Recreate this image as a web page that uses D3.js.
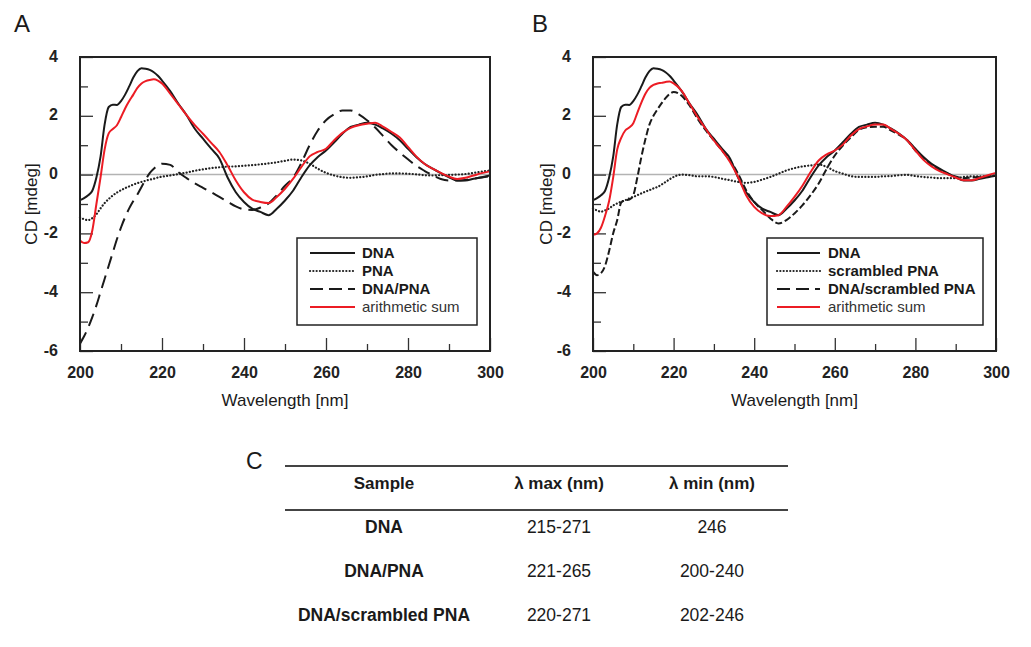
<!DOCTYPE html>
<html>
<head>
<meta charset="utf-8">
<script src="https://cdn.jsdelivr.net/npm/d3@7"></script>
<style>
  body { margin: 0; background: #fff; }
  svg { display: block; font-family: Arial, "Liberation Sans", sans-serif; }
</style>
</head>
<body>
<svg id="chart" width="1031" height="647"></svg>
<script>
// wavelengths shared by every spectrum (1 nm steps up to 220, then 2 nm)
const wavelengths = [200,201,202,203,204,205,206,207,208,209,210,211,212,213,214,215,216,217,218,219,220,
  222,224,226,228,230,232,234,236,238,240,242,244,246,248,250,252,254,256,258,260,
  262,264,266,268,270,272,274,276,278,280,282,284,286,288,290,292,294,296,298,300]

// CD values (mdeg)
const dnaCD = [-0.87,-0.8,-0.7,-0.55,-0.1,0.6,1.7,2.3,2.38,2.37,2.5,2.72,3.0,3.3,3.52,3.62,3.6,3.56,3.48,3.36,3.2,
  2.84,2.41,2.02,1.56,1.22,0.88,0.55,-0.1,-0.6,-0.93,
  -1.16,-1.27,-1.38,-1.16,-0.88,-0.54,-0.09,0.31,0.6,0.82,
  1.1,1.39,1.62,1.7,1.76,1.7,1.56,1.39,1.17,0.88,
  0.6,0.37,0.2,0.05,-0.09,-0.2,-0.2,-0.14,-0.09,-0.03]

const pnaCD = [-1.45,-1.52,-1.55,-1.48,-1.35,-1.15,-0.97,-0.83,-0.71,-0.61,-0.53,-0.46,-0.4,-0.34,-0.29,-0.25,-0.21,-0.17,-0.14,-0.1,-0.07,
  -0.03,0.02,0.07,0.13,0.18,0.22,0.25,0.27,0.28,0.3,
  0.32,0.35,0.38,0.42,0.47,0.51,0.48,0.37,0.2,0.06,
  -0.03,-0.09,-0.11,-0.09,-0.06,-0.01,0.02,0.04,0.04,0.03,
  0.01,-0.02,-0.03,-0.02,-0.01,0,0.02,0.06,0.1,0.14]

const dnaPnaCD = [-5.75,-5.5,-5.2,-4.85,-4.45,-4.0,-3.55,-3.1,-2.65,-2.2,-1.8,-1.45,-1.15,-0.9,-0.68,-0.42,-0.17,0.05,0.2,0.3,0.37,
  0.33,0.08,-0.12,-0.3,-0.45,-0.6,-0.76,-0.92,-1.08,-1.18,
  -1.2,-1.12,-0.98,-0.7,-0.38,-0.1,0.4,1.0,1.5,1.85,
  2.05,2.18,2.18,2.05,1.85,1.6,1.3,1.0,0.75,0.52,
  0.3,0.13,-0.02,-0.15,-0.2,-0.2,-0.18,-0.14,-0.1,-0.05]

const sumCD_A = [-2.24,-2.33,-2.3,-1.9,-1.0,-0.1,0.85,1.4,1.55,1.68,1.95,2.25,2.5,2.72,2.95,3.1,3.18,3.22,3.24,3.2,3.1,
  2.75,2.39,2.02,1.68,1.39,1.08,0.77,0.31,-0.2,-0.6,
  -0.85,-0.93,-0.97,-0.76,-0.48,-0.14,0.26,0.62,0.77,0.88,
  1.17,1.42,1.59,1.68,1.73,1.76,1.62,1.45,1.26,0.94,
  0.62,0.37,0.2,0.06,-0.07,-0.15,-0.11,-0.03,0.05,0.11]

const scrambledPnaCD = [-1.15,-1.22,-1.26,-1.22,-1.15,-1.05,-0.98,-0.92,-0.87,-0.81,-0.76,-0.7,-0.64,-0.58,-0.53,-0.47,-0.42,-0.34,-0.25,-0.16,-0.08,
  0,-0.02,-0.06,-0.06,-0.08,-0.14,-0.19,-0.25,-0.28,-0.25,
  -0.17,-0.08,0.03,0.14,0.22,0.28,0.31,0.34,0.26,0.12,
  0.03,-0.05,-0.08,-0.08,-0.08,-0.06,-0.05,-0.02,-0.01,-0.05,
  -0.08,-0.1,-0.12,-0.12,-0.12,-0.08,-0.06,-0.06,-0.05,-0.02]

const dnaScrambledCD = [-3.3,-3.42,-3.35,-3.1,-2.6,-2.0,-1.55,-0.95,-0.88,-0.85,-0.7,-0.1,0.6,1.2,1.7,2.0,2.22,2.42,2.6,2.74,2.81,
  2.68,2.34,1.89,1.5,1.16,0.82,0.48,0.03,-0.53,-0.93,
  -1.21,-1.49,-1.66,-1.55,-1.32,-1.04,-0.7,-0.3,0.2,0.65,
  0.99,1.27,1.52,1.61,1.63,1.63,1.5,1.35,1.16,0.82,
  0.54,0.31,0.15,0.03,-0.06,-0.12,-0.1,-0.08,-0.06,-0.05]

const sumCD_B = [-2.05,-2.0,-1.8,-1.4,-0.9,-0.1,0.85,1.25,1.5,1.6,1.75,2.1,2.45,2.75,2.95,3.05,3.1,3.12,3.15,3.17,3.1,
  2.85,2.4,1.95,1.55,1.16,0.82,0.43,-0.08,-0.7,-1.1,
  -1.32,-1.41,-1.38,-1.1,-0.76,-0.37,0.09,0.48,0.69,0.82,
  1.02,1.33,1.55,1.64,1.7,1.7,1.55,1.38,1.16,0.82,
  0.5,0.28,0.12,0.01,-0.1,-0.19,-0.19,-0.11,-0.02,0.06]

// axis ticks
const xMajorTicks = [200, 220, 240, 260, 280, 300]
const xMinorTicks = [210, 230, 250, 270, 290]
const yMajorTicks = [-6, -4, -2, 0, 2, 4]
const yMinorTicks = [-5, -3, -1, 1, 3]

const legendLabelsA = ['DNA', 'PNA', 'DNA/PNA', 'arithmetic sum']
const legendLabelsB = ['DNA', 'scrambled PNA', 'DNA/scrambled PNA', 'arithmetic sum']

// table C
const tableHeader = ['Sample', 'λ max (nm)', 'λ min (nm)']
const tableSamples = ['DNA', 'DNA/PNA', 'DNA/scrambled PNA']
const lambdaMax = ['215-271', '221-265', '220-271']
const lambdaMin = ['246', '200-240', '202-246']

const RED = '#ec1c24'
const INK = '#1a1a1a'

const svg = d3.select('#chart')
svg.append('rect').attr('width', 1031).attr('height', 647).attr('fill', '#fff')

const plotTop = 57
const plotBottom = 351

function drawPanel(p) {
  const x = d3.scaleLinear().domain([200, 300]).range([p.left, p.right])
  const y = d3.scaleLinear().domain([-6, 4]).range([plotBottom, plotTop])
  const g = svg.append('g')

  // panel letter
  g.append('text').attr('x', p.letterX).attr('y', 32)
    .attr('font-size', 24).attr('fill', INK).text(p.letter)

  // grey zero line
  g.append('line')
    .attr('x1', x(200)).attr('x2', x(300))
    .attr('y1', y(0)).attr('y2', y(0))
    .attr('stroke', '#b3b3b3').attr('stroke-width', 1.5)

  // ticks point inwards, labels outside (plain hyphen for negatives, like the original)
  const yMajor = g.append('g').attr('transform', 'translate(' + x(200) + ',0)')
    .call(d3.axisLeft(y).tickValues(yMajorTicks).tickSize(-13).tickPadding(22).tickFormat(d => String(d)))
  const yMinor = g.append('g').attr('transform', 'translate(' + x(200) + ',0)')
    .call(d3.axisLeft(y).tickValues(yMinorTicks).tickSize(-8).tickFormat(''))
  const xMajor = g.append('g').attr('transform', 'translate(0,' + plotBottom + ')')
    .call(d3.axisBottom(x).tickValues(xMajorTicks).tickSize(-13).tickPadding(16).tickFormat(d => String(d)))
  const xMinor = g.append('g').attr('transform', 'translate(0,' + plotBottom + ')')
    .call(d3.axisBottom(x).tickValues(xMinorTicks).tickSize(-7).tickFormat(''))

  ;[yMajor, yMinor, xMajor, xMinor].forEach(a => {
    a.attr('font-size', 16).attr('font-family', 'Arial, "Liberation Sans", sans-serif')
    a.select('.domain').remove()
    a.selectAll('line').attr('stroke', '#333').attr('stroke-width', 1.3)
    a.selectAll('text').attr('font-size', 16).attr('font-weight', 'bold').attr('fill', '#222')
  })
  yMajor.selectAll('text').attr('dy', '0.25em')

  // spectra
  const line = d3.line()
    .x((d, i) => x(wavelengths[i]))
    .y(d => y(d))
    .curve(d3.curveMonotoneX)

  p.series.forEach(s => {
    g.append('path')
      .attr('d', line(s.values))
      .attr('fill', 'none')
      .attr('stroke', s.color)
      .attr('stroke-width', s.width)
      .attr('stroke-dasharray', s.dash)
      .attr('stroke-linecap', s.cap || 'butt')
  })

  // frame
  g.append('rect')
    .attr('x', x(200)).attr('y', y(4))
    .attr('width', x(300) - x(200)).attr('height', y(-6) - y(4))
    .attr('fill', 'none').attr('stroke', '#222').attr('stroke-width', 2)

  // axis titles
  g.append('text')
    .attr('x', (x(200) + x(300)) / 2).attr('y', 406)
    .attr('text-anchor', 'middle').attr('font-size', 17).attr('fill', INK)
    .text('Wavelength [nm]')
  g.append('text')
    .attr('transform', 'translate(' + p.yTitleX + ',' + (plotTop + plotBottom) / 2 + ') rotate(-90)')
    .attr('text-anchor', 'middle').attr('font-size', 17).attr('fill', INK)
    .text('CD [mdeg]')

  // legend
  const lg = g.append('g').attr('transform', 'translate(' + p.legend.x + ',238)')
  lg.append('rect').attr('width', p.legend.w).attr('height', 87)
    .attr('fill', '#fff').attr('stroke', '#222').attr('stroke-width', 1.5)
  const legendOrder = [p.series[2], p.series[0], p.series[1], p.series[3]]
  legendOrder.forEach((s, i) => {
    const ly = 15 + i * 18
    lg.append('line')
      .attr('x1', p.legend.line0).attr('x2', p.legend.line1)
      .attr('y1', ly).attr('y2', ly)
      .attr('stroke', s.color).attr('stroke-width', s.width)
      .attr('stroke-dasharray', s.legendDash || s.dash)
      .attr('stroke-linecap', s.cap || 'butt')
    lg.append('text')
      .attr('x', p.legend.text).attr('y', ly + 5)
      .attr('font-size', 15)
      .attr('font-weight', i < 3 ? 'bold' : 'normal')
      .attr('fill', i < 3 ? INK : '#333')
      .text(p.labels[i])
  })
}

drawPanel({
  letter: 'A', letterX: 14, left: 80, right: 490, yTitleX: 37,
  labels: legendLabelsA,
  legend: { x: 297, w: 180, line0: 13, line1: 58, text: 65 },
  series: [
    { values: pnaCD, color: '#222', width: 2.2, dash: '0.1,3.2', cap: 'round' },
    { values: dnaPnaCD, color: INK, width: 2, dash: '13,7', legendDash: '13,6' },
    { values: dnaCD, color: INK, width: 2, dash: null },
    { values: sumCD_A, color: RED, width: 2, dash: null }
  ]
})

drawPanel({
  letter: 'B', letterX: 532, left: 593, right: 996, yTitleX: 552,
  labels: legendLabelsB,
  legend: { x: 767, w: 216, line0: 10, line1: 53, text: 61 },
  series: [
    { values: scrambledPnaCD, color: '#222', width: 2.2, dash: '0.1,3.2', cap: 'round' },
    { values: dnaScrambledCD, color: INK, width: 2, dash: '7,3', legendDash: '13,6' },
    { values: dnaCD, color: INK, width: 2, dash: null },
    { values: sumCD_B, color: RED, width: 2, dash: null }
  ]
})

// ---- table C ----
const table = svg.append('g')
const colX = [384, 559, 712]
const rowY = [533, 577, 621]

table.append('text').attr('x', 246).attr('y', 469).attr('font-size', 23).attr('fill', INK).text('C')

table.selectAll('line.rule')
  .data([466, 510])
  .enter()
  .append('line')
  .attr('class', 'rule')
  .attr('x1', 285).attr('x2', 788)
  .attr('y1', d => d).attr('y2', d => d)
  .attr('stroke', '#444').attr('stroke-width', 2)

table.selectAll('text.head')
  .data(tableHeader)
  .enter()
  .append('text')
  .attr('class', 'head')
  .attr('x', (d, i) => colX[i]).attr('y', 489)
  .attr('text-anchor', 'middle').attr('font-size', 17).attr('font-weight', 'bold').attr('fill', INK)
  .text(d => d)

tableSamples.forEach((s, i) => {
  const cells = [s, lambdaMax[i], lambdaMin[i]]
  cells.forEach((c, j) => {
    table.append('text')
      .attr('x', colX[j]).attr('y', rowY[i])
      .attr('text-anchor', 'middle').attr('font-size', 17.5)
      .attr('font-weight', j === 0 ? 'bold' : 'normal')
      .attr('fill', INK)
      .text(c)
  })
})
</script>
</body>
</html>
